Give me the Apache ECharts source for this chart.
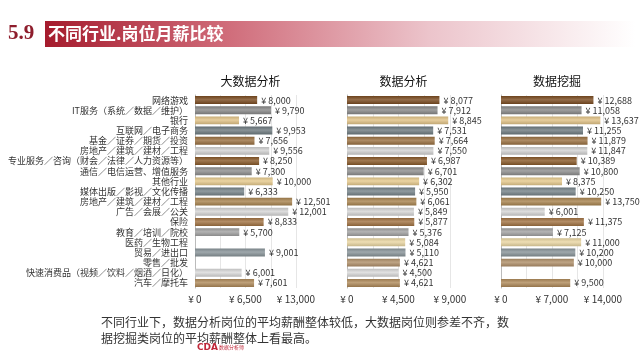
<!DOCTYPE html>
<html><head><meta charset="utf-8">
<script src="https://cdn.jsdelivr.net/npm/echarts@6/dist/echarts.min.js"></script>
<style>html,body{margin:0;padding:0;background:#fff}#c{width:640px;height:360px}</style>
</head><body><div id="c"></div>
<script>
const categories = ['网络游戏','IT服务（系统／数据／维护）','银行','互联网／电子商务','基金／证券／期货／投资','房地产／建筑／建材／工程','专业服务／咨询（财会／法律／人力资源等）','通信／电信运营、增值服务','其他行业','媒体出版／影视／文化传播','房地产／建筑／建材／工程 ','广告／会展／公关','保险','教育／培训／院校','医药／生物工程','贸易／进出口','零售／批发','快速消费品（视频／饮料／烟酒／日化）','汽车／摩托车'];
const bigData = [8000,9790,5667,9953,7656,9556,8250,7300,10000,6333,12501,12001,8833,5700,null,9001,null,6001,7601];
const dataAnalysis = [8077,7912,8845,7531,7664,7550,6987,6701,6302,5950,6061,5849,5877,5376,5084,5110,4621,4500,4621];
const dataMining = [12688,11058,13637,11255,11879,11847,10389,10800,8375,10250,13750,6001,11375,7125,11000,10200,10000,null,9500];
const panelTitles = ['大数据分析','数据分析','数据挖掘'];
const axisMax = [13000,9000,14000];
const labelStep = [6500,4500,7000];

const palette = ['#7c4d22','#8a8a8a','#e2c387','#6f7b80','#9b7242','#d2d2d2','#8a5a2a','#8f8f8f','#e6ca8e','#77848a','#a8844f','#d6d6d6','#a27444','#a2a2a2','#ead7a4','#8a959a','#b0906a','#dadada','#b08b5b'];

function shade(hex, f){
  const n=parseInt(hex.slice(1),16);let r=n>>16,g=(n>>8)&255,b=n&255;
  const m=c=>Math.max(0,Math.min(255,Math.round(f>0?c+(255-c)*f:c*(1+f))));
  return 'rgb('+m(r)+','+m(g)+','+m(b)+')';
}
function grad(hex){
  return new echarts.graphic.LinearGradient(0,0,0,1,[
    {offset:0,color:shade(hex,-0.12)},{offset:0.45,color:shade(hex,0.18)},{offset:1,color:shade(hex,-0.15)}]);
}
const fmt = v => '¥ ' + Number(v).toLocaleString('en-US');
const lefts = [195,347,501], widths = [101,103,102];
const all = [bigData,dataAnalysis,dataMining];
const font = '"Noto Sans CJK SC","Noto Sans",sans-serif';

const option = {
  animation:false,
  textStyle:{fontFamily:font},
  title: panelTitles.map((t,i)=>({text:t,left:lefts[i]+widths[i]/2,top:70,textAlign:'center',
    textStyle:{fontSize:12,fontWeight:'normal',color:'#111',fontFamily:font}})),
  grid: lefts.map((l,i)=>({left:l,width:widths[i],top:95,bottom:72})),
  xAxis: axisMax.map((m,i)=>({type:'value',gridIndex:i,min:0,max:m,interval:labelStep[i]/2,
    axisLine:{show:false},axisTick:{show:false},
    splitLine:{show:true,lineStyle:{color:'#e6e6e6',width:1}},
    axisLabel:{fontSize:10,color:'#333',margin:6,formatter:v=>(v%labelStep[i]===0?fmt(v):'')}})),
  yAxis: lefts.map((l,i)=>({type:'category',gridIndex:i,data:categories,inverse:true,
    axisLine:{show:true,lineStyle:{color:'#bbb'}},axisTick:{show:false},
    axisLabel:{show:i===0,interval:0,fontSize:9,color:'#333',margin:7,formatter:v=>v.trim()}})),
  series: all.map((arr,i)=>({type:'bar',xAxisIndex:i,yAxisIndex:i,barWidth:'78%',
    data:arr.map((v,k)=>({value:v,itemStyle:{color:grad(palette[k])}})),
    label:{show:true,position:'right',distance:4,fontSize:9,color:'#333',
      formatter:p=>(p.value==null?'':fmt(p.value))}})),
  graphic:[
    {type:'rect',shape:{x:45,y:21,width:590,height:26},
      style:{fill:new echarts.graphic.LinearGradient(0,0,1,0,[
        {offset:0,color:'#a51b2d'},{offset:0.3,color:'#cf6a78'},{offset:0.65,color:'#ecc4cb'},{offset:1,color:'rgba(255,255,255,1)'}])}},
    {type:'text',x:8,y:34,style:{text:'5.9',font:'bold 21px "Liberation Serif",serif',fill:'#8e1d2c',verticalAlign:'middle'}},
    {type:'text',x:48,y:34,style:{text:'不同行业.岗位月薪比较',font:'bold 17px "Noto Sans CJK SC",sans-serif',fill:'#fff',verticalAlign:'middle'}},
    {type:'text',x:101,y:322,style:{text:'不同行业下，数据分析岗位的平均薪酬整体较低，大数据岗位则参差不齐，数',font:'12px "Noto Sans CJK SC",sans-serif',fill:'#333',verticalAlign:'middle'}},
    {type:'text',x:101,y:338,style:{text:'据挖掘类岗位的平均薪酬整体上看最高。',font:'12px "Noto Sans CJK SC",sans-serif',fill:'#333',verticalAlign:'middle'}},
    {type:'text',x:197,y:348,style:{text:'CDA',font:'bold 9px "DejaVu Sans",sans-serif',fill:'#c0283a',verticalAlign:'middle'}},
    {type:'text',x:219,y:347,style:{text:'数据分析师',font:'5px "Noto Sans CJK SC",sans-serif',fill:'#c0283a',verticalAlign:'middle'}}
  ]
};
echarts.init(document.getElementById('c')).setOption(option);
</script></body></html>
